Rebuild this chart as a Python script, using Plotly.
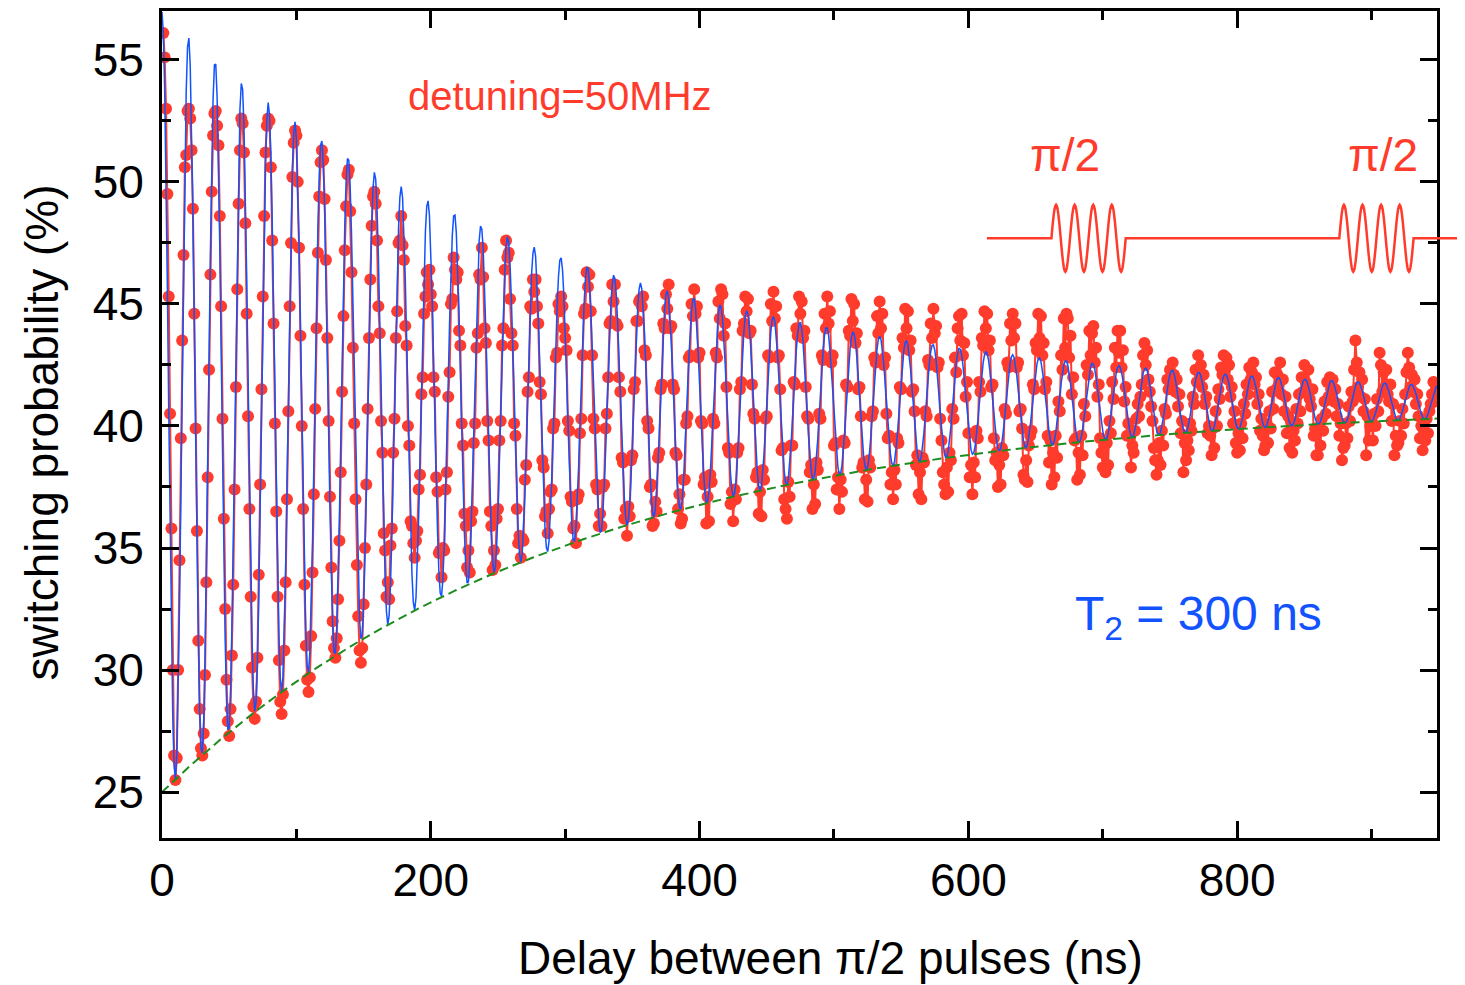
import numpy as np
import plotly.graph_objects as go

# ---------------- data ----------------
# switching probability (%) sampled every 1 ns, starting at 1 ns
prob_001_199 = [
    56.1, 55.1, 53.0, 49.5, 45.3, 40.5, 35.8, 30.0, 26.5, 25.5, 26.4, 30.0, 34.5, 39.5, 43.5, 47.0, 50.6, 51.1, 52.9,
    53.0, 52.6, 51.3, 48.9, 44.6, 39.9, 35.7, 31.2, 28.4, 26.8, 26.5, 27.4, 29.8, 33.6, 37.9, 42.3, 46.2, 49.6, 51.9, 52.8,
    52.9, 52.3, 51.5, 48.6, 44.9, 40.3, 36.2, 32.5, 29.6, 27.9, 27.3, 28.4, 30.6, 33.5, 37.4, 41.6, 45.6, 49.1, 51.3, 52.6,
    52.4, 51.2, 48.3, 44.6, 40.4, 36.6, 33.0, 30.1, 28.5, 28.0, 28.7, 30.5, 33.9, 37.6, 41.5, 45.3, 48.6, 51.2, 52.3, 52.6,
    52.5, 50.6, 47.6, 44.2, 40.1, 36.5, 33.0, 30.4, 28.7, 28.2, 29.0, 30.8, 33.6, 37.0, 40.6, 44.9, 47.5, 50.2, 51.6, 52.1,
    51.9, 50.0, 47.3, 43.7, 40.0, 36.6, 33.5, 31.0, 29.6, 29.1, 29.7, 31.4, 34.0, 37.2, 40.7, 44.0, 47.1, 49.4, 50.8, 51.3,
    50.9, 49.3, 46.8, 43.6, 40.2, 37.1, 34.2, 32.0, 30.9, 30.5, 31.3, 32.9, 35.3, 38.1, 41.4, 44.5, 47.2, 49.0, 50.3, 50.5,
    48.8, 46.3, 43.2, 40.1, 37.0, 34.3, 32.2, 30.8, 30.3, 30.9, 32.7, 35.0, 37.6, 40.7, 43.6, 46.0, 48.2, 49.4, 49.6, 49.1,
    47.6, 44.9, 43.8, 40.2, 38.9, 35.6, 34.9, 33.0, 33.6, 32.9, 35.1, 35.8, 38.9, 40.3, 43.6, 44.7, 47.5, 47.6, 48.6, 47.4,
    46.8, 44.1, 43.3, 40.0, 39.2, 36.1, 35.9, 35.2, 34.6, 35.3, 35.7, 37.4, 38.0, 41.3, 42.0, 44.6, 45.3, 46.3, 45.8, 46.4,
]
prob_200_399 = [
    45.4, 44.9, 42.0, 41.4, 37.9, 37.3, 34.8, 34.9, 33.8, 35.0, 34.9, 37.4, 38.1, 41.2, 42.2, 45.0, 45.2, 46.9, 46.4, 46.0,
    46.3, 43.9, 43.3, 40.1, 39.2, 36.4, 35.9, 34.2, 34.9, 34.0, 36.1, 36.5, 39.3, 40.1, 43.2, 43.8, 46.2, 46.0, 47.3, 46.1,
    44.0, 43.4, 40.2, 39.4, 36.5, 35.9, 34.1, 34.9, 34.3, 36.2, 36.6, 39.4, 40.2, 43.3, 44.0, 46.4, 47.6, 46.9, 47.1, 45.2,
    43.8, 43.3, 40.1, 39.6, 36.6, 35.2, 35.5, 34.6, 35.4, 35.3, 37.8, 38.4, 41.4, 42.0, 44.9, 44.8, 46.0, 45.5, 46.0, 44.9,
    44.2, 41.8, 41.3, 38.6, 38.3, 36.3, 36.5, 35.6, 36.6, 37.3, 37.4, 39.9, 40.1, 42.8, 43.0, 45.0, 44.7, 45.3, 44.9, 44.0,
    43.6, 43.1, 40.2, 39.8, 37.1, 36.9, 35.8, 35.9, 35.2, 37.0, 37.2, 39.7, 40.3, 42.9, 44.6, 44.8, 46.3, 45.7, 46.2, 44.7,
    42.9, 40.3, 39.9, 37.6, 37.4, 35.9, 36.4, 35.9, 37.5, 37.6, 39.9, 40.5, 42.0, 44.2, 44.3, 45.8, 45.1, 45.8, 44.2, 44.1,
    42.0, 41.4, 38.7, 38.5, 36.2, 36.6, 35.5, 36.7, 36.3, 38.6, 38.8, 41.5, 41.8, 44.3, 44.3, 45.1, 45.2, 44.9, 45.3, 43.1,
    42.9, 40.2, 39.9, 37.5, 37.6, 35.9, 36.0, 36.9, 36.5, 38.7, 38.9, 41.5, 41.7, 44.2, 44.0, 45.4, 44.8, 45.8, 44.0, 44.1,
    41.7, 41.5, 38.9, 38.8, 36.6, 37.2, 36.0, 36.2, 37.8, 37.8, 40.1, 40.4, 42.8, 42.9, 45.0, 44.5, 45.6, 44.6, 44.9, 42.8,
]
prob_400_599 = [
    43.0, 40.2, 40.1, 37.6, 37.9, 36.0, 37.1, 36.1, 38.0, 37.7, 40.3, 40.1, 43.0, 42.8, 45.1, 44.4, 45.6, 45.4, 43.7, 44.2,
    41.6, 39.1, 38.9, 36.8, 37.3, 36.1, 37.4, 37.0, 38.9, 39.1, 41.5, 41.8, 43.9, 44.2, 45.3, 44.7, 45.2, 43.8, 43.9, 41.7,
    40.5, 40.3, 37.9, 38.1, 36.4, 37.3, 36.3, 38.2, 37.8, 40.3, 40.4, 42.9, 42.8, 45.0, 44.3, 45.5, 44.4, 44.9, 42.8, 42.9,
    41.5, 39.0, 39.1, 37.0, 36.6, 36.2, 37.7, 37.1, 39.2, 39.2, 41.8, 41.7, 44.0, 43.7, 45.3, 44.6, 45.1, 43.6, 43.9, 41.6,
    40.4, 40.3, 38.1, 38.4, 36.6, 37.6, 36.8, 38.5, 38.2, 40.5, 40.3, 42.9, 42.7, 44.6, 44.0, 45.3, 44.2, 44.7, 42.6, 42.9,
    39.2, 39.3, 37.4, 37.9, 36.6, 37.8, 37.3, 39.4, 39.3, 41.7, 41.6, 43.9, 43.7, 45.2, 44.3, 45.0, 43.4, 43.8, 41.5, 41.6,
    40.4, 38.3, 38.5, 37.0, 37.8, 36.9, 38.6, 38.3, 40.4, 40.6, 42.8, 42.6, 44.5, 43.8, 45.1, 44.0, 44.6, 42.5, 42.8, 40.5,
    39.5, 39.6, 37.6, 38.1, 37.0, 38.2, 37.6, 39.5, 39.3, 41.6, 41.5, 43.6, 43.2, 44.8, 44.0, 44.7, 43.1, 43.5, 41.4, 41.5,
    40.6, 38.4, 38.8, 37.2, 38.1, 37.0, 38.7, 38.5, 40.6, 40.4, 42.7, 42.5, 44.2, 43.6, 44.8, 43.8, 44.1, 42.4, 42.6, 40.3,
    39.4, 38.1, 37.6, 37.2, 38.3, 37.3, 38.9, 38.6, 40.7, 40.3, 42.8, 42.2, 44.0, 44.5, 43.5, 44.6, 42.9, 43.4, 41.2, 41.8,
]
prob_600_799 = [
    39.7, 37.9, 38.4, 37.2, 38.5, 37.9, 39.8, 39.5, 41.8, 41.4, 43.6, 43.3, 44.7, 44.0, 44.6, 43.1, 43.5, 41.6, 41.7, 39.5,
    38.6, 38.9, 37.5, 38.4, 37.6, 39.1, 38.8, 40.7, 40.5, 42.6, 42.4, 44.2, 43.5, 44.6, 43.6, 44.2, 42.4, 42.6, 40.6, 40.7,
    39.9, 38.0, 37.8, 38.6, 37.7, 39.2, 39.6, 39.8, 41.7, 41.5, 43.4, 43.1, 44.6, 43.6, 44.5, 42.9, 43.4, 41.5, 41.8, 39.6,
    38.5, 39.4, 37.6, 38.9, 37.9, 39.6, 38.7, 41.0, 40.6, 42.9, 42.3, 44.4, 43.2, 44.6, 44.4, 42.8, 43.7, 41.3, 42.0, 39.4,
    39.5, 37.8, 38.9, 38.0, 39.6, 38.8, 40.9, 40.4, 42.5, 42.1, 43.9, 42.9, 43.8, 44.1, 42.6, 43.2, 41.2, 41.7, 39.5, 38.9,
    38.3, 39.2, 38.1, 39.3, 38.4, 40.2, 39.7, 41.8, 41.1, 43.2, 42.4, 43.9, 43.0, 43.9, 42.4, 43.1, 41.0, 41.6, 39.6, 40.1,
    39.6, 38.3, 39.2, 38.9, 39.8, 40.3, 40.9, 40.4, 41.2, 41.7, 42.9, 43.4, 42.5, 43.1, 41.9, 41.4, 40.8, 40.2, 39.1, 38.6,
    38.0, 38.6, 39.3, 38.4, 39.8, 39.2, 40.7, 40.5, 41.9, 41.5, 42.3, 41.8, 42.6, 42.1, 41.4, 41.9, 40.8, 41.3, 39.7, 40.2,
    38.1, 39.3, 38.6, 39.4, 39.0, 40.1, 39.8, 41.2, 40.9, 42.3, 41.8, 42.9, 42.2, 42.5, 41.6, 42.1, 40.9, 41.2, 39.7, 40.0,
    39.6, 38.8, 39.9, 39.1, 40.6, 40.0, 41.5, 41.1, 42.4, 42.1, 42.9, 42.3, 42.8, 41.9, 42.5, 41.2, 41.6, 40.1, 40.6, 39.3,
]
prob_800_948 = [
    38.9, 39.7, 39.0, 40.1, 39.5, 40.9, 40.5, 41.7, 41.3, 42.4, 41.9, 42.2, 42.6, 41.7, 42.0, 40.9, 41.3, 39.8, 40.3, 39.6,
    39.0, 39.2, 40.1, 39.3, 40.6, 39.9, 41.4, 40.7, 42.2, 41.5, 42.1, 41.7, 42.6, 41.3, 41.9, 40.6, 41.2, 39.7, 40.4, 39.1,
    40.2, 38.9, 39.8, 39.4, 40.7, 40.1, 41.3, 40.6, 42.0, 41.4, 42.5, 41.8, 41.6, 42.3, 41.1, 40.8, 41.5, 39.6, 39.9, 38.8,
    38.8, 39.9, 39.2, 40.3, 39.8, 41.0, 40.5, 41.8, 41.2, 42.0, 41.5, 41.9, 41.0, 41.5, 40.4, 40.9, 39.6, 40.1, 38.6, 39.1,
    39.2, 40.1, 39.5, 40.8, 40.2, 41.4, 41.0, 42.3, 43.5, 42.6, 41.6, 42.2, 41.2, 41.9, 40.6, 41.1, 38.8, 40.4, 39.4, 40.0,
    40.3, 39.4, 40.5, 40.0, 41.1, 40.6, 43.0, 42.5, 41.4, 42.2, 41.6, 42.3, 41.3, 41.0, 41.7, 40.2, 40.9, 38.8, 39.6, 39.2,
    39.3, 40.2, 39.6, 40.7, 40.1, 41.3, 42.2, 43.0, 42.4, 41.6, 42.1, 41.4, 41.9, 40.9, 41.3, 40.4, 39.5, 40.0, 39.0, 39.7,
    39.4, 40.3, 39.7, 40.6, 40.9, 41.3, 41.8, 41.0, 41.6,
]
delay_first_ns = 1
delay_step_ns = 1

# fit parameters (T2 = 300 ns)
fit_offset = 40.98
fit_amplitude = 15.98
t2_ns = 300.0
fit_period_ns = 19.78
fit_step_ns = 1.0

# axis ticks
x_ticks = [0, 200, 400, 600, 800]
y_ticks = [25, 30, 35, 40, 45, 50, 55]
x_range = [0, 948.7]
y_range = [23.12, 57.0]

# pulse-sequence schematic (in ns / % units)
pulse_line_start = 613.8
pulse_line_end = 969.5
pulse_starts = [661.8, 876.0]
pulse_period = 13.82
pulse_cycles = 4
pulse_baseline = 47.69
pulse_amp = 1.37

# ---------------- build ----------------
switching_prob = prob_001_199 + prob_200_399 + prob_400_599 + prob_600_799 + prob_800_948
delay_ns = [delay_first_ns + i * delay_step_ns for i in range(len(switching_prob))]

fit_t = np.arange(0.0, x_range[1] + fit_step_ns, fit_step_ns)
decay = fit_amplitude * np.exp(-fit_t / t2_ns)
fit_curve = fit_offset + decay * np.cos(2 * np.pi * fit_t / fit_period_ns)
envelope = fit_offset - decay

RED = "#FF3B2C"
BLUE = "#1252FF"
GREEN = "#1E8C1E"
FONT = "Arial, Liberation Sans, sans-serif"

fig = go.Figure()
fig.add_trace(go.Scatter(
    x=delay_ns, y=switching_prob, mode="lines+markers",
    line=dict(color=RED, width=2),
    marker=dict(color=RED, size=12, line=dict(width=0)),
    showlegend=False, hoverinfo="skip"))
fig.add_trace(go.Scatter(
    x=fit_t, y=fit_curve, mode="lines",
    line=dict(color=BLUE, width=1.5),
    showlegend=False, hoverinfo="skip"))
fig.add_trace(go.Scatter(
    x=fit_t, y=envelope, mode="lines",
    line=dict(color=GREEN, width=2, dash="9px,5px"),
    showlegend=False, hoverinfo="skip"))

# pulse schematic path in paper coordinates
def to_paper(xv, yv):
    px = (xv - x_range[0]) / (x_range[1] - x_range[0])
    py = (yv - y_range[0]) / (y_range[1] - y_range[0])
    return px, py

pts = [(pulse_line_start, pulse_baseline)]
for s in pulse_starts:
    pts.append((s, pulse_baseline))
    n = 24 * pulse_cycles
    for k in range(n + 1):
        tt = s + pulse_period * pulse_cycles * k / n
        pts.append((tt, pulse_baseline + pulse_amp * np.sin(2 * np.pi * (tt - s) / pulse_period)))
pts.append((pulse_line_end, pulse_baseline))
path = ""
for idx, (xv, yv) in enumerate(pts):
    px, py = to_paper(xv, yv)
    path += ("M" if idx == 0 else "L") + f"{px:.5f},{py:.5f} "
fig.add_shape(type="path", path=path, xref="paper", yref="paper",
              line=dict(color=RED, width=2.5), layer="above")

axis_common = dict(
    showline=True, linewidth=3, linecolor="black", mirror="ticks",
    ticks="inside", ticklen=17, tickwidth=3, tickcolor="black",
    showgrid=False, zeroline=False,
    tickfont=dict(family=FONT, size=46, color="black"),
)
fig.update_xaxes(range=x_range, tickvals=x_ticks, ticklabelstandoff=0,
                 minor=dict(ticks="inside", ticklen=9, tickwidth=3, tickcolor="black", dtick=100, tick0=0),
                 **axis_common)
fig.update_yaxes(range=y_range, tickvals=y_ticks, ticklabelstandoff=6,
                 minor=dict(ticks="inside", ticklen=9, tickwidth=3, tickcolor="black", dtick=2.5, tick0=25),
                 **axis_common)

annots = [
    dict(text="Delay between π/2 pulses (ns)", x=0.5247, y=-0.1446, font=dict(size=46)),
    dict(text="switching probability (%)", x=-0.0941, y=0.4904, textangle=-90, font=dict(size=46)),
    dict(text="detuning=50MHz", x=0.3122, y=0.8976, font=dict(size=40, color=RED)),
    dict(text="π/2", x=0.7082, y=0.8253, font=dict(size=46, color=RED)),
    dict(text="π/2", x=0.9576, y=0.8253, font=dict(size=46, color=RED)),
    dict(text="T<sub>2</sub> = 300 ns", x=0.8133, y=0.2675, font=dict(size=48, color=BLUE)),
]
for a in annots:
    f = dict(family=FONT, color="black")
    f.update(a.pop("font"))
    fig.add_annotation(xref="paper", yref="paper", showarrow=False,
                       xanchor="center", yanchor="middle", font=f, **a)

# page body adds an 8 px offset; size the figure to fill the rest of the window
fig.update_layout(
    width=1457, height=977,
    margin=dict(l=154, r=28, t=0, b=147),
    paper_bgcolor="white", plot_bgcolor="white",
    showlegend=False,
)
fig.write_html("out.html")
